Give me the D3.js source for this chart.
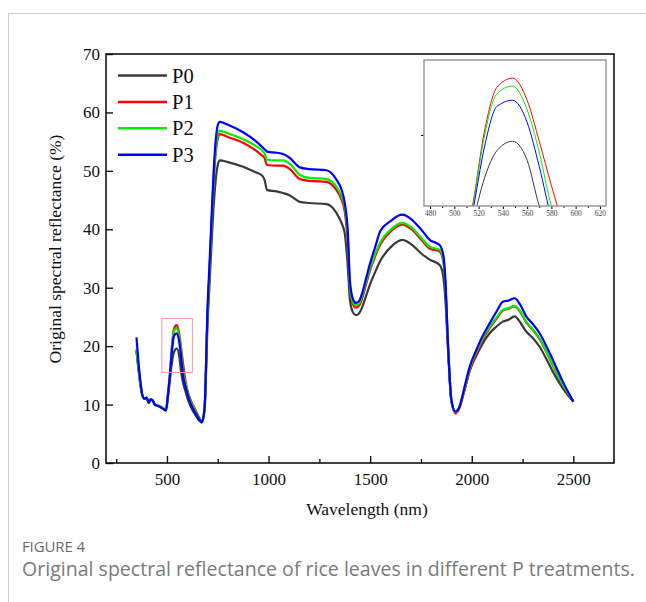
<!DOCTYPE html>
<html>
<head>
<meta charset="utf-8">
<script src="https://cdnjs.cloudflare.com/ajax/libs/d3/7.8.5/d3.min.js"></script>
<style>
  body { margin: 0; background: #fff; }
  svg { display: block; }
</style>
</head>
<body>
<div id="chart"></div>
<script>
// Spectra
const wavelength = [
  350, 360, 370, 380, 390, 400, 410, 420, 430, 440, 460,
  480, 495, 505, 515, 525, 535, 548, 560, 570, 580, 590,
  600, 620, 640, 660, 672, 685, 700, 710, 720, 735, 750,
  760, 800, 875, 940, 965, 980, 993, 1040, 1072, 1105, 1154,
  1200, 1285, 1334, 1360, 1375, 1391, 1400, 1415, 1430, 1445, 1460,
  1480, 1500, 1525, 1550, 1600, 1658, 1700, 1750, 1793, 1842, 1860,
  1870, 1883, 1900, 1920, 1937, 1965, 1990, 2022, 2050, 2088, 2120,
  2153, 2180, 2211, 2240, 2268, 2300, 2334, 2370, 2400, 2450, 2500];

const P0 = [
  19.2, 16.0, 13.2, 11.4, 11.0, 11.2, 10.3, 10.9, 10.7, 10.0, 9.7,
  9.3, 9.0, 11.3, 14.4, 17.3, 19.0, 19.6, 18.4, 15.5, 13.6, 12.4,
  11.2, 9.4, 8.2, 7.2, 6.9, 9.0, 24.0, 31.0, 38.0, 46.5, 51.0,
  51.8, 51.5, 50.7, 49.7, 49.3, 48.5, 46.7, 46.5, 46.2, 45.8, 44.7,
  44.5, 44.3, 42.8, 41.0, 39.3, 33.0, 28.0, 25.8, 25.3, 25.6, 26.6,
  28.6, 30.6, 32.7, 34.6, 36.9, 38.2, 37.5, 35.9, 34.8, 33.9, 31.9,
  28.0, 19.5, 10.4, 8.7, 9.4, 12.6, 15.8, 18.3, 20.2, 22.2, 23.3,
  24.2, 24.5, 25.1, 24.0, 22.5, 21.4, 19.9, 17.6, 15.6, 12.7, 10.5];

const P1 = [
  19.3, 16.1, 13.3, 11.4, 11.0, 11.2, 10.3, 10.9, 10.7, 10.0, 9.8,
  9.4, 9.1, 11.9, 15.5, 20.3, 23.0, 23.6, 22.2, 19.6, 16.8, 14.3,
  12.6, 10.5, 9.1, 7.7, 7.1, 9.4, 25.5, 33.0, 41.0, 51.0, 55.5,
  56.3, 55.8, 54.8, 53.4, 52.7, 52.2, 51.0, 50.9, 50.9, 50.3, 48.6,
  48.3, 48.1, 46.7, 45.0, 43.0, 37.0, 30.0, 27.2, 26.6, 26.9, 28.1,
  30.6, 33.0, 35.4, 37.4, 39.6, 40.8, 40.1, 38.3, 36.7, 36.2, 34.5,
  30.5, 20.2, 10.6, 8.5, 9.2, 12.6, 15.8, 18.6, 20.8, 23.1, 24.6,
  26.1, 26.4, 26.8, 25.8, 24.1, 22.8, 21.2, 18.8, 16.6, 13.3, 10.5];

const P2 = [
  19.5, 16.3, 13.4, 11.5, 11.0, 11.2, 10.3, 10.9, 10.7, 10.0, 9.8,
  9.4, 9.1, 11.8, 15.4, 20.0, 22.6, 23.1, 21.6, 18.9, 15.5, 13.8,
  12.3, 10.2, 8.9, 7.6, 7.0, 9.4, 26.0, 33.5, 41.5, 51.5, 56.2,
  56.9, 56.4, 55.4, 54.2, 53.6, 53.0, 51.9, 51.8, 51.8, 51.2, 49.3,
  48.8, 48.6, 47.3, 45.6, 43.9, 38.0, 30.5, 27.6, 27.0, 27.3, 28.5,
  31.0, 33.4, 35.8, 37.8, 39.9, 41.1, 40.4, 38.6, 37.0, 36.5, 34.8,
  30.8, 20.3, 10.7, 8.7, 9.4, 12.9, 16.2, 19.0, 21.1, 23.3, 24.8,
  26.2, 26.5, 26.9, 25.9, 24.2, 22.9, 21.3, 18.9, 16.7, 13.3, 10.6];

const P3 = [
  21.5, 17.2, 13.8, 11.5, 11.0, 11.2, 10.3, 10.9, 10.7, 10.0, 9.7,
  9.3, 9.0, 11.6, 15.1, 19.3, 21.8, 22.2, 20.8, 18.0, 14.8, 13.2,
  11.9, 9.9, 8.6, 7.4, 7.0, 9.4, 27.0, 34.5, 42.5, 53.0, 57.8,
  58.4, 57.9, 56.6, 55.0, 54.2, 53.7, 53.3, 53.1, 52.9, 52.2, 50.6,
  50.3, 50.1, 48.5, 46.7, 44.5, 39.0, 31.3, 28.1, 27.4, 27.7, 29.0,
  31.6, 34.2, 37.0, 39.7, 41.4, 42.5, 41.8, 40.0, 38.2, 37.3, 35.6,
  31.5, 20.5, 10.8, 8.8, 9.4, 13.1, 16.5, 19.3, 21.5, 23.9, 25.8,
  27.6, 27.8, 28.2, 27.0, 25.1, 23.8, 22.2, 19.8, 17.6, 13.8, 10.5];

const seriesNames = ["P0", "P1", "P2", "P3"];
const seriesValues = [P0, P1, P2, P3];
const seriesColors = ["#3a3a3a", "#ff0000", "#00ee00", "#0000ff"];

const xTicks = [500, 1000, 1500, 2000, 2500];
const xMinor = [250, 750, 1250, 1750, 2250];
const yTicks = [0, 10, 20, 30, 40, 50, 60, 70];
const insetTicks = [480, 500, 520, 540, 560, 580, 600, 620];
const insetMinor = [490, 510, 530, 550, 570, 590, 610];
const zoomBox = { x: [475, 625], y: [15.5, 24.75] };

const SERIF = "'Liberation Serif', 'Times New Roman', serif";

const series = seriesNames.map((name, i) => ({
  name: name,
  color: seriesColors[i],
  points: wavelength.map((w, j) => ({ w: w, v: seriesValues[i][j] }))
}));

const W = 646, H = 602;
const svg = d3.select("#chart").append("svg")
  .attr("width", W).attr("height", H);

// page frame (journal layout)
svg.append("path")
  .attr("d", `M${W},13.5 H8.5 V${H}`)
  .attr("fill", "none").attr("stroke", "#d0d0d0").attr("stroke-width", 1);

const plot = { left: 106, right: 614, top: 54, bottom: 463 };

const x = d3.scaleLinear().domain([200, 2700]).range([plot.left, plot.right]);
const y = d3.scaleLinear().domain([0, 70]).range([plot.bottom, plot.top]);

const line = d3.line()
  .x(d => x(d.w)).y(d => y(d.v))
  .curve(d3.curveMonotoneX);

// curves
svg.append("g").selectAll("path")
  .data(series)
  .join("path")
  .attr("fill", "none")
  .attr("stroke", d => d.color)
  .attr("stroke-width", 2.2)
  .attr("stroke-linejoin", "round")
  .attr("d", d => line(d.points));

// zoom marker
svg.append("rect")
  .attr("x", x(zoomBox.x[0])).attr("y", y(zoomBox.y[1]))
  .attr("width", x(zoomBox.x[1]) - x(zoomBox.x[0]))
  .attr("height", y(zoomBox.y[0]) - y(zoomBox.y[1]))
  .attr("fill", "none").attr("stroke", "#f39a9a").attr("stroke-width", 1);

// axes
const xAxis = svg.append("g")
  .attr("transform", `translate(0,${plot.bottom})`)
  .call(d3.axisBottom(x).tickValues(xTicks).tickSize(-7).tickPadding(10).tickFormat(d3.format("d")));
svg.append("g")
  .attr("transform", `translate(0,${plot.bottom})`)
  .call(d3.axisBottom(x).tickValues(xMinor).tickSize(-4).tickFormat(""))
  .call(g => g.select(".domain").remove());

const yAxis = svg.append("g")
  .attr("transform", `translate(${plot.left},0)`)
  .call(d3.axisLeft(y).tickValues(yTicks).tickSize(-7).tickPadding(6));

[xAxis, yAxis].forEach(g => {
  g.select(".domain").remove();
  g.attr("font-family", SERIF);
  g.selectAll("text").attr("font-size", 17).attr("fill", "#111");
});
svg.selectAll(".tick line").attr("stroke", "#111").attr("stroke-width", 1.4);

svg.append("rect")
  .attr("x", plot.left).attr("y", plot.top)
  .attr("width", plot.right - plot.left).attr("height", plot.bottom - plot.top)
  .attr("fill", "none").attr("stroke", "#111").attr("stroke-width", 1.6);

svg.append("text")
  .attr("x", (plot.left + plot.right) / 2 + 7).attr("y", 515)
  .attr("text-anchor", "middle").attr("font-size", 17.5).attr("fill", "#111")
  .attr("font-family", SERIF)
  .text("Wavelength (nm)");

svg.append("text")
  .attr("transform", "translate(61,249) rotate(-90)")
  .attr("text-anchor", "middle").attr("font-size", 17.5).attr("fill", "#111")
  .attr("font-family", SERIF)
  .text("Original spectral reflectance (%)");

// legend
const legend = svg.append("g").attr("font-family", SERIF);
series.forEach((s, i) => {
  const ly = 75.5 + i * 26.4;
  legend.append("line")
    .attr("x1", 118).attr("x2", 167).attr("y1", ly).attr("y2", ly)
    .attr("stroke", s.color).attr("stroke-width", 2.5);
  legend.append("text")
    .attr("x", 172).attr("y", ly + 7)
    .attr("font-size", 20.5).attr("fill", "#111")
    .text(s.name);
});

// inset
const inset = { left: 424, right: 606, top: 60, bottom: 206 };
const ix = d3.scaleLinear().domain(zoomBox.x).range([inset.left, inset.right]);
const iy = d3.scaleLinear().domain(zoomBox.y).range([inset.bottom, inset.top]);

svg.append("clipPath").attr("id", "insetClip")
  .append("rect")
  .attr("x", inset.left).attr("y", inset.top)
  .attr("width", inset.right - inset.left).attr("height", inset.bottom - inset.top);

svg.append("rect")
  .attr("x", inset.left).attr("y", inset.top)
  .attr("width", inset.right - inset.left).attr("height", inset.bottom - inset.top)
  .attr("fill", "#fff");

const iline = d3.line()
  .x(d => ix(d.w)).y(d => iy(d.v))
  .curve(d3.curveMonotoneX);

svg.append("g").attr("clip-path", "url(#insetClip)")
  .selectAll("path")
  .data(series)
  .join("path")
  .attr("fill", "none")
  .attr("stroke", d => d.color)
  .attr("stroke-width", 1)
  .attr("d", d => iline(d.points));

const ixAxis = svg.append("g")
  .attr("transform", `translate(0,${inset.bottom})`)
  .call(d3.axisBottom(ix).tickValues(insetTicks).tickSize(3).tickPadding(2).tickFormat(d3.format("d")));
svg.append("g")
  .attr("transform", `translate(0,${inset.bottom})`)
  .call(d3.axisBottom(ix).tickValues(insetMinor).tickSize(2).tickFormat(""))
  .call(g => g.select(".domain").remove());
ixAxis.select(".domain").remove();
ixAxis.attr("font-family", SERIF);
ixAxis.selectAll("text").attr("font-size", 7.5).attr("fill", "#444");

svg.append("g")
  .attr("transform", `translate(${inset.left},0)`)
  .call(d3.axisLeft(iy).tickValues([20]).tickSize(3).tickFormat(""))
  .call(g => g.select(".domain").remove());

svg.append("rect")
  .attr("x", inset.left).attr("y", inset.top)
  .attr("width", inset.right - inset.left).attr("height", inset.bottom - inset.top)
  .attr("fill", "none").attr("stroke", "#9a9a9a").attr("stroke-width", 1.5);

// caption, fitted to the width used in the journal layout
function fitText(sel, width) {
  const len = sel.node().getComputedTextLength();
  const n = sel.text().length;
  sel.attr("letter-spacing", ((width - len) / (n - 1)).toFixed(3));
}
svg.append("text")
  .attr("x", 22).attr("y", 552)
  .attr("font-family", "'Open Sans', sans-serif").attr("font-size", 15)
  .attr("fill", "#6a6a6a")
  .text("FIGURE 4")
  .call(fitText, 63);
svg.append("text")
  .attr("x", 22).attr("y", 576)
  .attr("font-family", "'Open Sans', sans-serif").attr("font-size", 19.5)
  .attr("fill", "#7a7a7a")
  .text("Original spectral reflectance of rice leaves in different P treatments.")
  .call(fitText, 613);
</script>
</body>
</html>
